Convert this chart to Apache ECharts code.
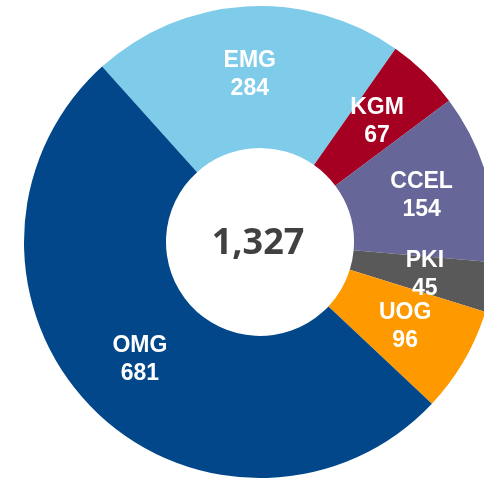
<!DOCTYPE html>
<html>
<head>
<meta charset="utf-8">
<script src="https://cdn.jsdelivr.net/npm/echarts@6/dist/echarts.min.js"></script>
<style>
  html, body { margin: 0; padding: 0; background: #fff; }
  #main { width: 484px; height: 478px; }
</style>
</head>
<body>
<div id="main"></div>
<script>
// 分部名称和数值
var names = ['EMG', 'KGM', 'CCEL', 'PKI', 'UOG', 'OMG'];
var values = [284, 67, 154, 45, 96, 681];
var colors = ['#7ecbea', '#a50021', '#666699', '#595959', '#fe9900', '#01478a'];
var totalText = '1,327';

var myChart = echarts.init(document.getElementById('main'));

var data = names.map(function (n, i) {
    return { name: n, value: values[i], itemStyle: { color: colors[i] } };
});

var option = {
    animation: false,
    graphic: [{
        type: 'text',
        x: 258, y: 244,
        style: {
            text: totalText,
            align: 'center',
            verticalAlign: 'middle',
            fontFamily: 'Open Sans',
            fontWeight: 'bold',
            fontSize: 36,
            fill: '#404040'
        }
    }],
    series: [{
        type: 'pie',
        center: [260, 242],
        radius: [94, 236],
        startAngle: 132,
        clockwise: true,
        avoidLabelOverlap: false,
        itemStyle: { borderWidth: 0 },
        label: {
            show: true,
            position: 'inside',
            formatter: '{b}\n{c}',
            color: '#fff',
            fontFamily: 'Liberation Sans',
            fontWeight: 'bold',
            fontSize: 23,
            lineHeight: 28
        },
        labelLayout: { hideOverlap: false },
        labelLine: { show: false },
        emphasis: { disabled: true },
        data: data
    }]
};

myChart.setOption(option);
</script>
</body>
</html>
